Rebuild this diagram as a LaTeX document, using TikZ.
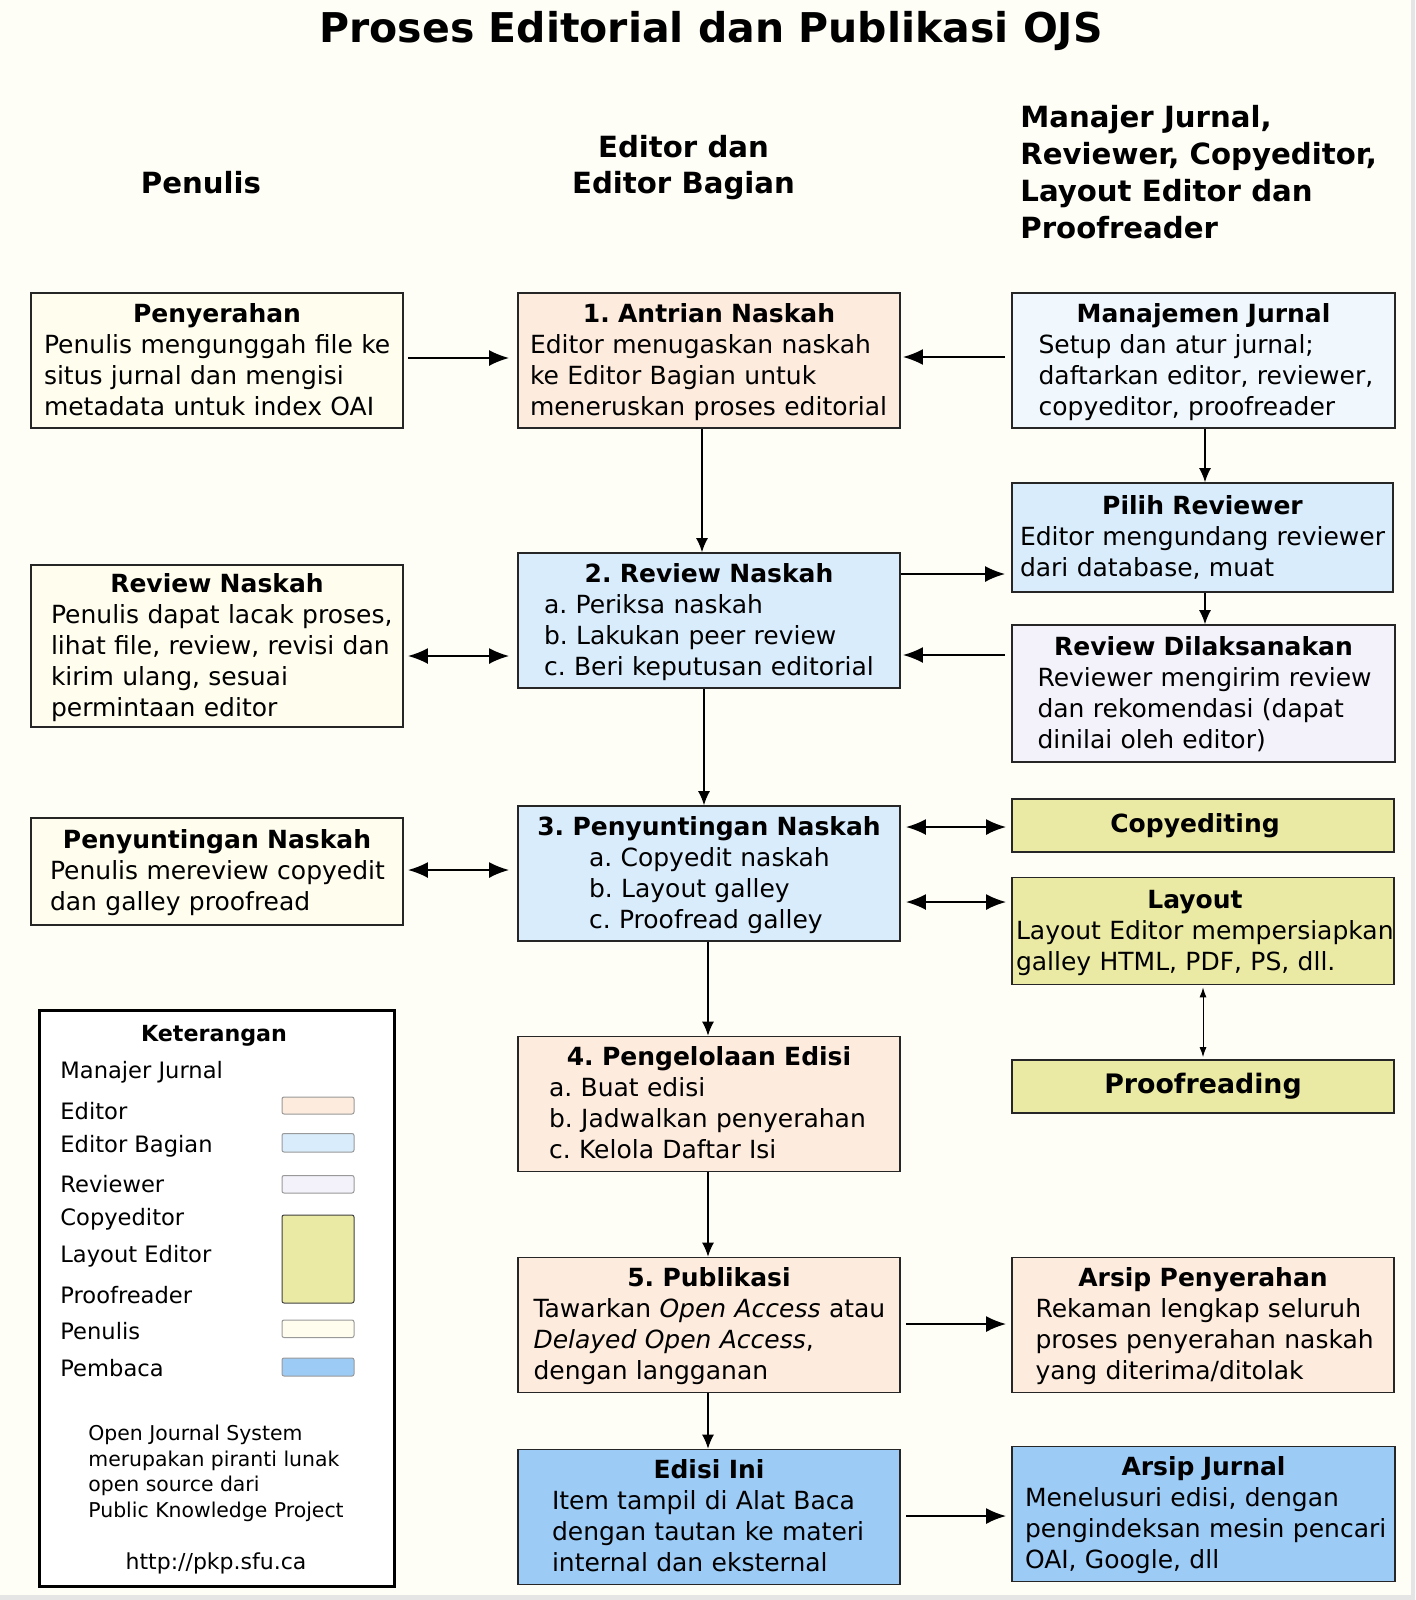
\documentclass[tikz,border=0pt]{standalone}
\usepackage{fontspec}
\setmainfont{DejaVu Sans}
\usetikzlibrary{arrows.meta}
\frenchspacing

\definecolor{latar}{HTML}{FEFDF6}
\definecolor{warnapenulis}{HTML}{FFFDEE}
\definecolor{warnaeditor}{HTML}{FDEBDD}
\definecolor{warnabagian}{HTML}{D9ECFB}
\definecolor{warnamanajer}{HTML}{F0F8FD}
\definecolor{warnareviewer}{HTML}{F3F2FB}
\definecolor{warnaproduksi}{HTML}{EAEAA4}
\definecolor{warnapembaca}{HTML}{9CCBF6}

% judul kotak di tengah, isi rata kiri dengan indentasi sendiri
\newcommand{\isikotak}[3]{{\centering\bfseries\rule{0pt}{13pt}#1\par}\noindent\hspace*{#2}\begin{tabular}[t]{@{}l@{}}#3\end{tabular}}

\tikzset{
  kotak/.style={draw=black!85, line width=0.9pt, inner sep=0pt, align=left,
    font=\fontsize{12.5}{15.5}\selectfont},
  penulis/.style={kotak, fill=warnapenulis},
  editor/.style={kotak, fill=warnaeditor},
  bagian/.style={kotak, fill=warnabagian},
  manajer/.style={kotak, fill=warnamanajer},
  reviewer/.style={kotak, fill=warnareviewer},
  produksi/.style={kotak, fill=warnaproduksi},
  pembaca/.style={kotak, fill=warnapembaca},
  kolom/.style={font=\fontsize{14.6}{18.4}\selectfont\bfseries, inner sep=0pt},
  panah/.style={-{Latex[length=10pt,width=8pt]}, line width=1pt},
  panahdua/.style={{Latex[length=10pt,width=8pt]}-{Latex[length=10pt,width=8pt]}, line width=1pt},
  turun/.style={-{Latex[length=7pt,width=6pt]}, line width=0.6pt},
  ket/.style={anchor=west, inner sep=0pt, text height=8.5pt, text depth=2.5pt,
    font=\fontsize{11.3}{13}\selectfont},
  contoh/.style={draw=black!40, line width=0.5pt, rounded corners=1pt},
}

\begin{document}
\begin{tikzpicture}[x=0.5pt,y=-0.5pt]
\useasboundingbox (0,0) rectangle (1415,1600);
\fill[latar] (0,0) rectangle (1415,1600);
\fill[black!10] (0,1595) rectangle (1415,1600);
\fill[black!10] (1411,0) rectangle (1415,1600);

% judul dan kepala kolom
\node[font=\fontsize{20.5}{24}\selectfont\bfseries] (judul) at (711,31) {Proses Editorial dan Publikasi OJS};
\node[kolom] (kolpenulis) at (201,182.6) {Penulis};
\node[kolom, align=center] (koleditor) at (683.5,167.5) {Editor dan\\Editor Bagian};
\node[kolom, align=left, anchor=west] (kolmanajer) at (1020,172.3) {Manajer Jurnal,\\Reviewer, Copyeditor,\\Layout Editor dan\\Proofreader};

% kolom penulis
\node[penulis, text width=186pt, minimum height=67.5pt] (penyerahan) at (217,360.5)
  {\isikotak{Penyerahan}{6.5pt}{Penulis mengunggah file ke\\situs jurnal dan mengisi\\metadata untuk index OAI}};
\node[penulis, text width=186pt, minimum height=81pt] (reviewpenulis) at (217,646)
  {\isikotak{Review Naskah}{10pt}{Penulis dapat lacak proses,\\lihat file, review, revisi dan\\kirim ulang, sesuai\\permintaan editor}};
\node[penulis, text width=186pt, minimum height=53.5pt] (suntingpenulis) at (217,871.5)
  {\isikotak{Penyuntingan Naskah}{9.5pt}{Penulis mereview copyedit\\dan galley proofread}};

% kolom editor
\node[editor, text width=191pt, minimum height=67.5pt] (antrian) at (709,360.5)
  {\isikotak{1. Antrian Naskah}{6pt}{Editor menugaskan naskah\\ke Editor Bagian untuk\\meneruskan proses editorial}};
\node[bagian, text width=191pt, minimum height=67.5pt] (review) at (709,620.5)
  {\isikotak{2. Review Naskah}{13pt}{a. Periksa naskah\\b. Lakukan peer review\\c. Beri keputusan editorial}};
\node[bagian, text width=191pt, minimum height=67.5pt] (penyuntingan) at (709,873.5)
  {\isikotak{3. Penyuntingan Naskah}{35.5pt}{a. Copyedit naskah\\b. Layout galley\\c. Proofread galley}};
\node[editor, text width=191pt, minimum height=67.5pt] (edisi) at (709,1104)
  {\isikotak{4. Pengelolaan Edisi}{15.5pt}{a. Buat edisi\\b. Jadwalkan penyerahan\\c. Kelola Daftar Isi}};
\node[editor, text width=191pt, minimum height=67.5pt] (publikasi) at (709,1325)
  {\isikotak{5. Publikasi}{7.75pt}{Tawarkan \textit{Open Access} atau\\\textit{Delayed Open Access},\\dengan langganan}};
\node[pembaca, text width=191pt, minimum height=67.5pt] (edisiini) at (709,1517)
  {\isikotak{Edisi Ini}{17pt}{Item tampil di Alat Baca\\dengan tautan ke materi\\internal dan eksternal}};

% kolom manajer, reviewer, copyeditor, layout editor, proofreader
\node[manajer, text width=191.5pt, minimum height=67.5pt] (manajemen) at (1203.5,360.5)
  {\isikotak{Manajemen Jurnal}{13.3pt}{Setup dan atur jurnal;\\daftarkan editor, reviewer,\\copyeditor, proofreader}};
\node[bagian, text width=190.5pt, minimum height=54.5pt] (pilih) at (1202.5,537.5)
  {\isikotak{Pilih Reviewer}{4pt}{Editor mengundang reviewer\\dari database, muat}};
\node[reviewer, text width=191.5pt, minimum height=68.5pt] (dilaksanakan) at (1203.5,693.5)
  {\isikotak{Review Dilaksanakan}{12.75pt}{Reviewer mengirim review\\dan rekomendasi (dapat\\dinilai oleh editor)}};
\node[produksi, text width=191pt, minimum height=26.5pt, align=center] (copyediting) at (1203,825.5)
  {\bfseries Copyediting\rule{8pt}{0pt}};
\node[produksi, text width=191pt, minimum height=53.5pt] (layout) at (1203,931)
  {\isikotak{Layout\hspace*{8pt}}{2pt}{Layout Editor mempersiapkan\\galley HTML, PDF, PS, dll.}};
\node[produksi, text width=191pt, minimum height=26.5pt, align=center,
  font=\fontsize{13.4}{16}\selectfont] (proofreading) at (1203,1086.5)
  {\bfseries Proofreading};
\node[editor, text width=191pt, minimum height=67.5pt] (arsippenyerahan) at (1203,1325)
  {\isikotak{Arsip Penyerahan}{11.75pt}{Rekaman lengkap seluruh\\proses penyerahan naskah\\yang diterima/ditolak}};
\node[pembaca, text width=191.5pt, minimum height=67.5pt] (arsipjurnal) at (1203.5,1514)
  {\isikotak{Arsip Jurnal}{6.5pt}{Menelusuri edisi, dengan\\pengindeksan mesin pencari\\OAI, Google, dll}};

% keterangan
\node[draw=black, line width=1.5pt, fill=white, minimum width=177.5pt, minimum height=288pt, inner sep=0pt] (legenda) at (216.5,1298) {};
\node[font=\fontsize{11.1}{13}\selectfont\bfseries] (keterangan) at (214,1036) {Keterangan};
\foreach \peran/\y [count=\i] in {Manajer Jurnal/1072, Editor/1113, Editor Bagian/1146, Reviewer/1186.5, Copyeditor/1219, Layout Editor/1256, Proofreader/1297, Penulis/1333, Pembaca/1370}
  \node[ket] (peran\i) at (60,\y) {\peran};
\draw[contoh, fill=warnaeditor] (282,1097) rectangle (354,1114);
\draw[contoh, fill=warnabagian] (282,1133.5) rectangle (354,1152);
\draw[contoh, fill=warnareviewer] (282,1175.5) rectangle (354,1193);
\draw[contoh, draw=black!75, fill=warnaproduksi] (282,1215) rectangle (354,1303);
\draw[contoh, fill=warnapenulis] (282,1320) rectangle (354,1337.5);
\draw[contoh, fill=warnapembaca] (282,1358) rectangle (354,1376);
\node[anchor=west, align=left, inner sep=0pt, font=\fontsize{10.2}{12.75}\selectfont] (ojs) at (88,1473.5)
  {Open Journal System\\merupakan piranti lunak\\open source dari\\Public Knowledge Project};
\node[font=\fontsize{11}{13}\selectfont] (situs) at (216,1563) {http://pkp.sfu.ca};

% panah
\draw[panah, shorten <=2pt, shorten >=4pt] (penyerahan.east |- 0,358) -- (antrian.west |- 0,358);
\draw[panah, shorten <=3pt, shorten >=1pt] (manajemen.west |- 0,357) -- (antrian.east |- 0,357);
\draw[turun] (antrian.south -| 702,0) -- (review.north -| 702,0);
\draw[panah, shorten >=3pt] (review.east |- 0,574) -- (pilih.west |- 0,574);
\draw[panah, shorten <=3pt, shorten >=1pt] (dilaksanakan.west |- 0,655) -- (review.east |- 0,655);
\draw[panahdua, shorten <=2pt, shorten >=4pt] (reviewpenulis.east |- 0,656) -- (review.west |- 0,656);
\draw[turun] (manajemen.south -| 1205,0) -- (pilih.north -| 1205,0);
\draw[turun] (pilih.south -| 1205,0) -- (dilaksanakan.north -| 1205,0);
\draw[turun] (review.south -| 704,0) -- (penyuntingan.north -| 704,0);
\draw[panahdua, shorten <=2pt, shorten >=4pt] (suntingpenulis.east |- 0,870) -- (penyuntingan.west |- 0,870);
\draw[panahdua, shorten <=2.5pt, shorten >=2.5pt] (penyuntingan.east |- 0,827) -- (copyediting.west |- 0,827);
\draw[panahdua, shorten <=2.5pt, shorten >=2.5pt] (penyuntingan.east |- 0,902) -- (layout.west |- 0,902);
\draw[{Latex[length=5pt,width=3.5pt]}-{Latex[length=5pt,width=3.5pt]}, line width=0.5pt, shorten <=1pt, shorten >=1pt] (layout.south -| 1203,0) -- (proofreading.north -| 1203,0);
\draw[turun] (penyuntingan.south -| 708,0) -- (edisi.north -| 708,0);
\draw[turun] (edisi.south -| 708,0) -- (publikasi.north -| 708,0);
\draw[panah, shorten <=2.5pt, shorten >=2.5pt] (publikasi.east |- 0,1324) -- (arsippenyerahan.west |- 0,1324);
\draw[turun] (publikasi.south -| 708,0) -- (edisiini.north -| 708,0);
\draw[panah, shorten <=2.5pt, shorten >=2.5pt] (edisiini.east |- 0,1516) -- (arsipjurnal.west |- 0,1516);
\end{tikzpicture}
\end{document}
